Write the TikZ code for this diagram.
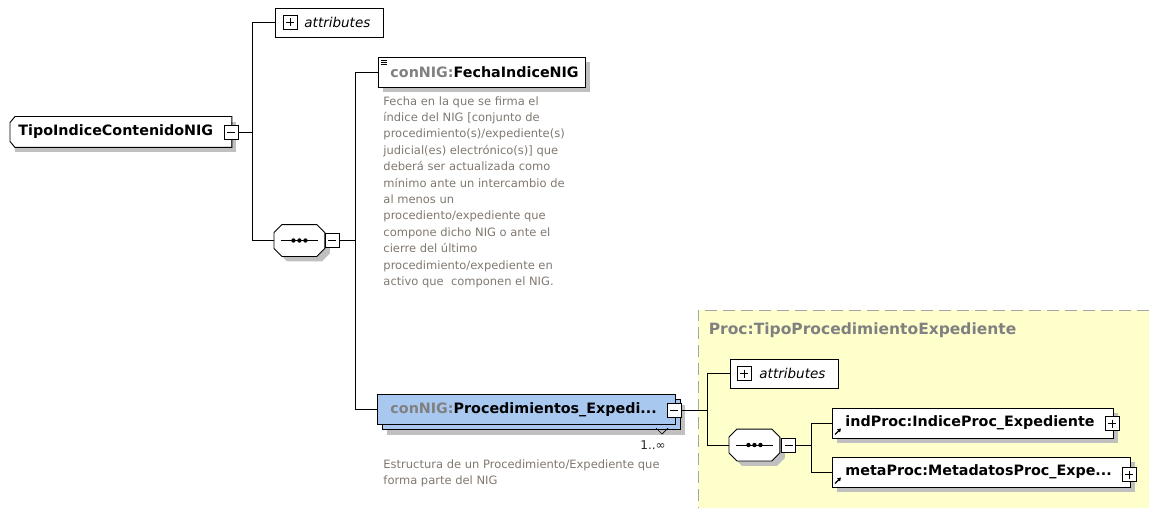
\documentclass[tikz,border=0pt]{standalone}
\usepackage{fontspec}
\setmainfont{DejaVu Sans}
\usetikzlibrary{arrows.meta}
\usetikzlibrary{shadows}
\definecolor{shadowgray}{RGB}{192,192,192}
\definecolor{descgray}{RGB}{128,120,112}
\definecolor{nsgray}{RGB}{128,128,128}
\definecolor{procblue}{RGB}{168,200,240}
\definecolor{typeyellow}{RGB}{255,255,204}

\begin{document}
\begin{tikzpicture}[x=1pt,y=-1pt,line width=0.9pt,
	shadowed/.style={drop shadow={shadow xshift=5pt,shadow yshift=-5pt,fill=shadowgray,opacity=1}},
	elem/.style={rectangle,draw,fill=white,minimum height=30,inner ysep=0,align=left,anchor=west,
		font=\bfseries\fontsize{14.3}{16}\selectfont,shadowed},
	attrbox/.style={rectangle,draw,fill=white,minimum height=29,text width=108,inner xsep=0,align=left,anchor=west,
		font=\itshape\fontsize{13.5}{16}\selectfont},
	seqbox/.style={rectangle,minimum width=50,minimum height=31,inner sep=0,anchor=west},
	rootpath/.style={insert path={([shift={(5,0)}]#1.north west) -- (#1.north east) -- (#1.south east)
		-- ([shift={(5,0)}]#1.south west) -- ([shift={(0,-6)}]#1.south west) -- ([shift={(0,6)}]#1.north west) -- cycle}},
	seqpath/.style={insert path={([shift={(8,0)}]#1.north west) -- ([shift={(-8,0)}]#1.north east)
		-- ([shift={(0,8)}]#1.north east) -- ([shift={(0,-8)}]#1.south east) -- ([shift={(-8,0)}]#1.south east)
		-- ([shift={(8,0)}]#1.south west) -- ([shift={(0,-8)}]#1.south west) -- ([shift={(0,8)}]#1.north west) -- cycle}},
	pmbox/.style={rectangle,draw,fill=white,minimum size=14,inner sep=0,line width=0.8pt},
	minusbox/.style={pmbox,path picture={\draw ([xshift=3pt]path picture bounding box.west) -- ([xshift=-3pt]path picture bounding box.east);}},
	plusbox/.style={pmbox,path picture={\draw ([xshift=3pt]path picture bounding box.west) -- ([xshift=-3pt]path picture bounding box.east);
			\draw ([yshift=-3pt]path picture bounding box.north) -- ([yshift=3pt]path picture bounding box.south);}},
	desc/.style={align=left,inner sep=0,anchor=north west,text=descgray,font=\fontsize{11.5}{16.4}\selectfont},
	refarrow/.style={-{Triangle[length=3.5pt,width=4pt]},line width=1.3pt}]
	\useasboundingbox (0,0) rectangle (1149,508);

	\fill[typeyellow] (698,310) rectangle (1149,508);
	\draw[nsgray!70,dash pattern=on 12pt off 6pt] (1149,310) -- (698,310) -- (698,508);
	\node[anchor=west,text=nsgray,font=\bfseries\fontsize{15.5}{18}\selectfont] (ptype) at (705,330) {Proc:TipoProcedimientoExpediente};

	\node[elem,draw=none,inner xsep=8,text width=205] (root) at (10,132) {TipoIndiceContenidoNIG};
	\draw[rootpath=root];
	\node[minusbox] (rootm) at (231,132) {};

	\node[attrbox] (attr) at (275,22.5) {\hspace{29pt}attributes};
	\node[plusbox] (attrp) at (290,22.5) {};

	\node[elem,inner xsep=12,text width=183] (fecha) at (378,72.5) {\textcolor{nsgray}{conNIG:}FechaIndiceNIG};
	\foreach \i in {0,2,4}
		\draw[line width=0.6pt] ([shift={(3,3+\i)}]fecha.north west) -- ++(6,0);
	\node[desc] (fdesc) at (383,96) {Fecha en la que se firma el\\
		índice del NIG [conjunto de\\
		procedimiento(s)/expediente(s)\\
		judicial(es) electrónico(s)] que\\
		deberá ser actualizada como\\
		mínimo ante un intercambio de\\
		al menos un\\
		procediento/expediente que\\
		compone dicho NIG o ante el\\
		cierre del último\\
		procedimiento/expediente en\\
		activo que \ componen el NIG.};

	\node[elem,fill=procblue,inner xsep=13,text width=272,
		drop shadow={shadow xshift=10pt,shadow yshift=-10pt,fill=shadowgray,opacity=1},
		copy shadow={shadow xshift=5pt,shadow yshift=-5pt,fill=procblue,draw=black}] (proc) at (377,409.5) {\textcolor{nsgray}{conNIG:}Procedimientos\_Expedi...};
	\node[minusbox] (procm) at (674,410) {};
	\draw[line width=0.7pt] (656,428) -- (662,434) -- (668,428);
	\node[text=black!85,font=\fontsize{12}{14}\selectfont] (mult) at (653,445) {1..∞};
	\node[desc] (pdesc) at (383,459) {Estructura de un Procedimiento/Expediente que\\forma parte del NIG};

	\node[attrbox] (attr2) at (730,373.5) {\hspace{29pt}attributes};
	\node[plusbox] (attr2p) at (744,373.5) {};

	\node[seqbox] (seq) at (274,240.5) {};
	\node[seqbox] (seq2) at (729,445) {};
	\foreach \s in {seq,seq2} {
		\fill[shadowgray,transform canvas={shift={(5pt,-5pt)}},seqpath=\s];
		\draw[fill=white,seqpath=\s];
		\draw ([shift={(7,0)}]\s.west) -- ([shift={(-7,0)}]\s.east);
		\foreach \d in {-6,0,6}
			\fill ([shift={(\d,0)}]\s.center) circle (2.2pt);
	}
	\node[minusbox] (seqm) at (332,240.5) {};
	\node[minusbox] (seq2m) at (788.5,445) {};

	\node[elem,inner xsep=13,text width=255] (ind) at (832,423) {indProc:IndiceProc\_Expediente};
	\node[plusbox] (indp) at (1112,423.5) {};
	\node[elem,inner xsep=13,text width=272] (meta) at (832,472) {metaProc:MetadatosProc\_Expe...};
	\node[plusbox] (metap) at (1129,474.5) {};
	\draw[refarrow] ([shift={(3,-4)}]ind.south west) -- ++(6,-6);
	\draw[refarrow] ([shift={(3,-4)}]meta.south west) -- ++(6,-6);

	\coordinate (b1) at (252,132);
	\coordinate (b2) at (355,240.5);
	\coordinate (b3) at (707,410);
	\coordinate (b4) at (811,445);
	\draw (rootm.east) -- (b1) |- (attr.west);
	\draw (b1) |- (seq.west);
	\draw (seqm.east) -- (b2) |- (fecha.west);
	\draw (b2) |- (proc.west);
	\draw (procm.east) -- (b3) |- (attr2.west);
	\draw (b3) |- (seq2.west);
	\draw (seq2m.east) -- (b4) |- (ind.west);
	\draw (b4) |- (meta.west);
\end{tikzpicture}
\end{document}
